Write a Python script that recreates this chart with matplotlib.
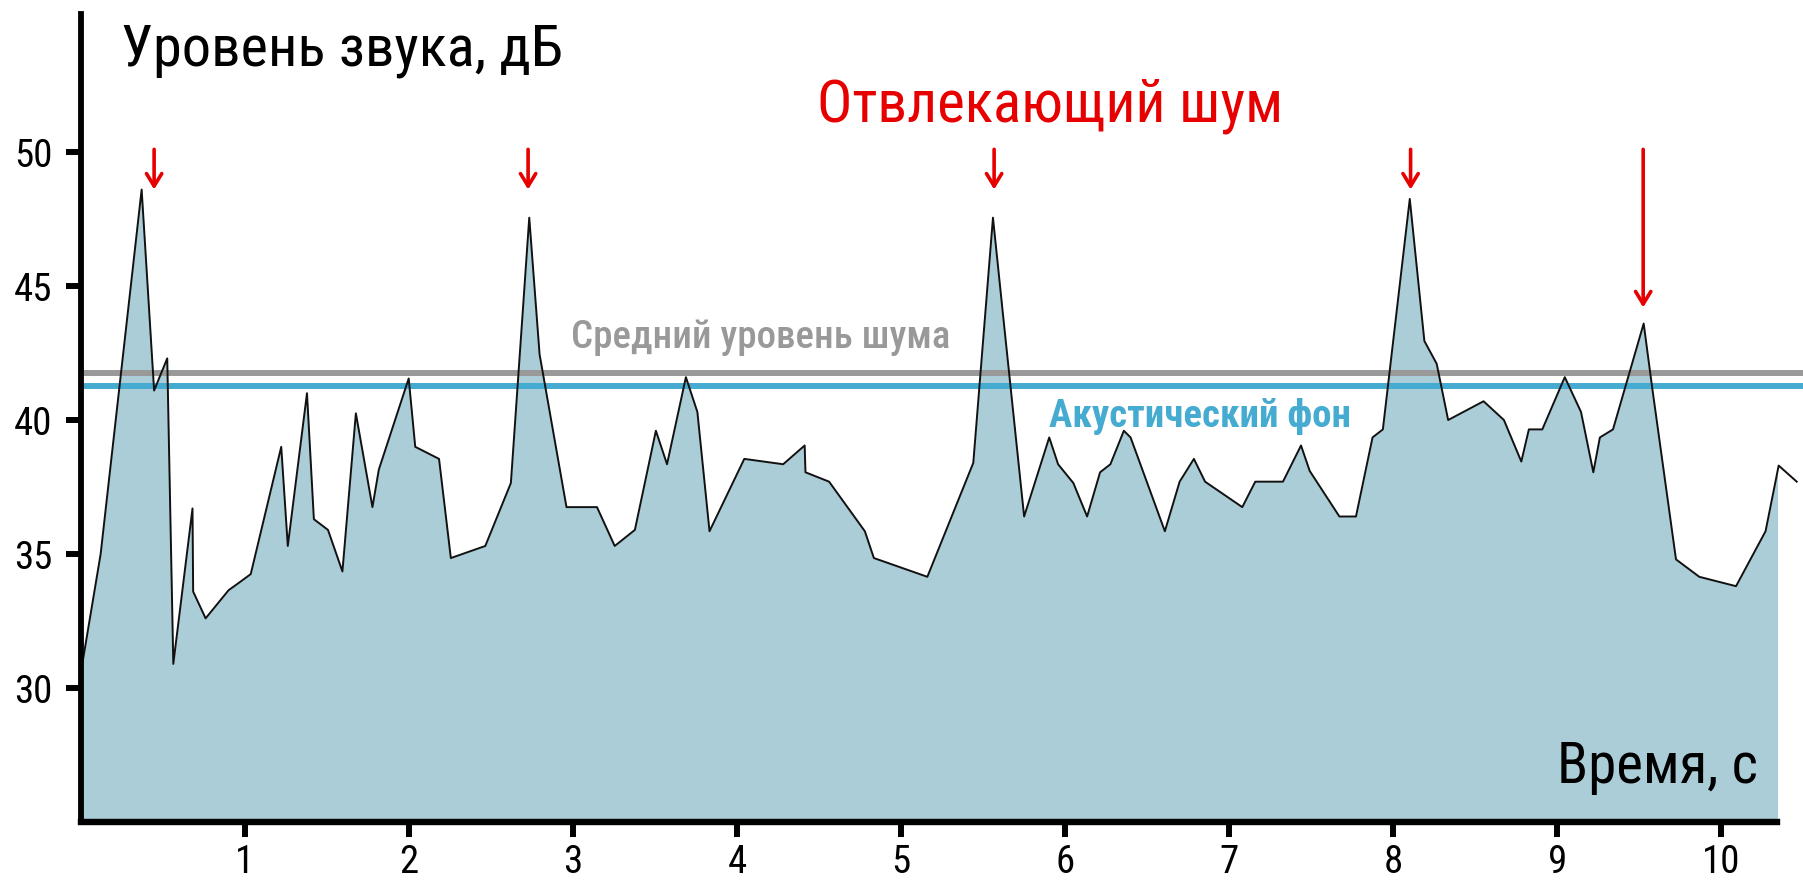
import matplotlib
matplotlib.use("Agg")
import matplotlib.pyplot as plt
from matplotlib import font_manager as fm

# ---- data ----
time_s = [0.00, 0.12, 0.37, 0.446, 0.526, 0.563, 0.68, 0.684, 0.76, 0.90, 0.957, 1.035,
          1.221, 1.261, 1.378, 1.42, 1.506, 1.594, 1.676, 1.777, 1.816, 1.998, 2.038,
          2.183, 2.255, 2.465, 2.621, 2.733, 2.796, 2.96, 3.146, 3.254, 3.377, 3.505,
          3.573, 3.688, 3.758, 3.832, 4.044, 4.281, 4.412, 4.417, 4.561, 4.779, 4.834,
          5.16, 5.44, 5.56, 5.62, 5.75, 5.903, 5.957, 6.05, 6.134, 6.213, 6.276, 6.358,
          6.399, 6.608, 6.698, 6.785, 6.853, 7.08, 7.159, 7.328, 7.438, 7.491, 7.672,
          7.773, 7.874, 7.937, 8.101, 8.19, 8.265, 8.335, 8.551, 8.675, 8.781, 8.827,
          8.909, 9.046, 9.145, 9.22, 9.26, 9.34, 9.527, 9.579, 9.724, 9.866, 10.09,
          10.27, 10.35, 10.46]
level_db = [30.6, 35.0, 48.6, 41.1, 42.3, 30.9, 36.7, 33.6, 32.6, 33.65, 33.9, 34.25,
            39.0, 35.3, 41.0, 36.3, 35.9, 34.35, 40.25, 36.75, 38.15, 41.55, 39.0,
            38.55, 34.85, 35.3, 37.65, 47.55, 42.45, 36.75, 36.75, 35.3, 35.9, 39.6,
            38.35, 41.6, 40.3, 35.85, 38.55, 38.35, 39.05, 38.05, 37.7, 35.85, 34.85,
            34.15, 38.4, 47.55, 44.0, 36.4, 39.35, 38.35, 37.65, 36.4, 38.05, 38.35, 39.6,
            39.35, 35.85, 37.7, 38.55, 37.7, 36.75, 37.7, 37.7, 39.05, 38.1, 36.4,
            36.4, 39.35, 39.65, 48.25, 42.95, 42.1, 40.0, 40.7, 40.0, 38.45, 39.65,
            39.65, 41.6, 40.3, 38.05, 39.35, 39.65, 43.6, 41.2, 34.8, 34.15, 33.8,
            35.85, 38.3, 37.7]
mean_noise = 41.74
background = 41.28
arrow_x = [0.446, 2.726, 5.567, 8.106, 9.524]
arrow_top = [50.1, 50.1, 50.1, 50.1, 50.1]
arrow_tip = [48.6, 48.6, 48.6, 48.6, 44.2]
x_ticks = [1, 2, 3, 4, 5, 6, 7, 8, 9, 10]
y_ticks = [30, 35, 40, 45, 50]

# ---- fonts ----
avail = {f.name for f in fm.fontManager.ttflist}
fam = 'Roboto'
for cand in ['Roboto Condensed', 'Liberation Sans Narrow', 'Roboto']:
    if cand in avail:
        fam = cand
        break
plt.rcParams['font.family'] = [fam, 'DejaVu Sans']

fig = plt.figure(figsize=(18.03, 8.86), dpi=100)
ax = fig.add_axes([0.0449, 0.0722, 0.9856 - 0.0449, 0.9842 - 0.0722])
ax.set_xlim(0, 10.34)
ax.set_ylim(25, 55.15)

ax.fill_between(time_s, level_db, 25, color='#abcdd8', lw=0, zorder=1)
ax.plot(time_s, level_db, color='#111111', lw=1.4, zorder=3, clip_on=False)

ax.plot([0, 11], [mean_noise, mean_noise], color='#999999', lw=4.3, zorder=2, clip_on=False,
        solid_capstyle='butt')
ax.plot([0, 11], [background, background], color='#45abd0', lw=4.3, zorder=2, clip_on=False,
        solid_capstyle='butt')

for xa, yt, yb in zip(arrow_x, arrow_top, arrow_tip):
    ax.annotate('', xy=(xa, yb), xytext=(xa, yt),
                arrowprops=dict(arrowstyle='->,head_length=0.9,head_width=0.55',
                                color='#e60000', lw=2.6, shrinkA=0, shrinkB=0),
                annotation_clip=False)

for s in ['top', 'right']:
    ax.spines[s].set_visible(False)
ax.spines['left'].set_linewidth(4.2)
ax.spines['bottom'].set_linewidth(4.6)
ax.spines['left'].set_zorder(5)
ax.spines['bottom'].set_zorder(5)
ax.set_xticks(x_ticks)
ax.set_yticks(y_ticks)
ax.set_xticklabels([str(v) for v in x_ticks])
ax.set_yticklabels([str(v) for v in y_ticks])
ax.tick_params(axis='both', length=10.5, width=4.3, labelsize=28, color='black')
ax.tick_params(axis='y', pad=10)
ax.tick_params(axis='x', pad=5)

fig.text(0.0671, 0.9266, 'Уровень звука, дБ', fontsize=42, color='black', va='baseline', ha='left')
fig.text(0.4529, 0.8626, 'Отвлекающий шум', fontsize=42.5, color='#e60000', va='baseline', ha='left')
fig.text(0.3169, 0.6072, 'Средний уровень шума', fontsize=28, color='#999999', va='baseline',
         ha='left', fontweight='medium')
fig.text(0.5818, 0.5184, 'Акустический фон', fontsize=28, color='#45abd0', va='baseline',
         ha='left', fontweight='bold')
fig.text(0.9749, 0.1159, 'Время, с', fontsize=41, color='black', va='baseline', ha='right')

fig.savefig('out.png', dpi=100)
